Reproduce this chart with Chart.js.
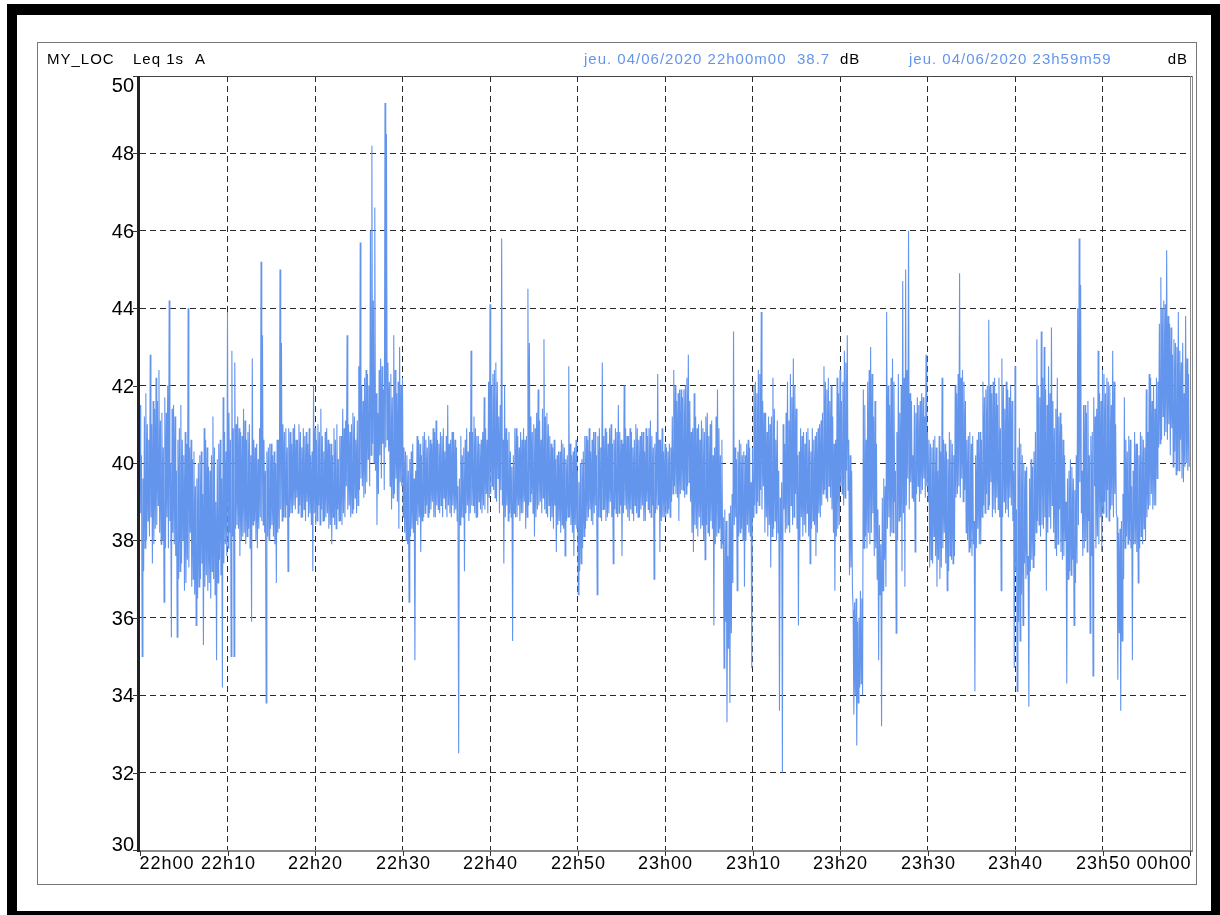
<!DOCTYPE html>
<html>
<head>
<meta charset="utf-8">
<title>MY_LOC Leq 1s A</title>
<script src="https://cdn.jsdelivr.net/npm/chart.js@4.4.1/dist/chart.umd.min.js"></script>
<style>
    html, body { margin: 0; padding: 0; background: #fff; }
    #wrap { width: 1220px; height: 915px; position: relative; }
</style>
</head>
<body>
<div id="wrap"><canvas id="leqChart"></canvas></div>
<script>
// readings per 10 s slot, 22h00m00 -> 23h59m50
const stepSeconds = 10
const timeLabels = ["22h00", "22h10", "22h20", "22h30", "22h40", "22h50", "23h00",
    "23h10", "23h20", "23h30", "23h40", "23h50", "00h00"]
const yTicks = [30, 32, 34, 36, 38, 40, 42, 44, 46, 48, 50]
const headerLeft = ["MY_LOC", "Leq 1s", "A"]
const startStamp = "jeu. 04/06/2020 22h00m00"
const endStamp = "jeu. 04/06/2020 23h59m59"
const overallLeq = "38.7"

// main reading of each slot (peaks and dips)
const levels = [
    38.7, 35.0, 39.6, 37.8, 41.8, 38.5, 40.6, 42.8, 37.4, 41.6, 38.3, 42.2,
    38.9, 42.4, 37.9, 41.3, 36.4, 41.7, 38.6, 42.0, 44.2, 35.5, 41.4, 37.9,
    41.2, 35.5, 40.6, 37.2, 41.5, 38.0, 36.7, 40.8, 37.5, 44.0, 38.2, 40.6,
    37.0, 40.3, 35.8, 39.6, 36.8, 40.2, 37.4, 35.3, 40.9, 37.1, 40.4, 36.9,
    39.8, 37.2, 41.2, 36.6, 34.9, 40.1, 37.5, 40.6, 34.2, 41.7, 37.9, 40.3,
    43.9, 38.2, 35.0, 42.9, 35.0, 42.6, 38.4, 41.2, 37.6, 40.8, 38.1, 41.4,
    37.9, 40.6, 38.3, 41.0, 35.9, 42.7, 38.5, 40.4, 37.8, 40.1, 38.6, 45.2,
    43.3, 38.2, 33.8, 40.3, 38.0, 40.5, 38.4, 40.2, 37.9, 36.9, 40.6, 38.3,
    45.0, 43.1, 38.6, 40.8, 38.9, 37.2, 40.9, 38.7, 40.5, 38.9, 41.0, 39.1,
    40.6, 41.0, 38.6, 40.4, 38.8, 40.7, 39.0, 40.5, 38.7, 40.2, 37.2, 42.0,
    38.4, 40.6, 38.9, 40.8, 41.4, 38.5, 40.3, 38.6, 40.9, 38.3, 40.5, 37.9,
    40.2, 38.4, 40.6, 38.8, 40.1, 38.5, 40.7, 41.4, 38.6, 39.4, 43.3, 38.9,
    40.8, 38.7, 41.3, 39.1, 40.6, 38.9, 42.5, 45.7, 39.4, 41.6, 39.2, 42.4,
    40.1, 42.0, 46.0, 48.2, 44.2, 46.6, 38.4, 41.3, 40.2, 42.7, 40.5, 41.9,
    49.3, 48.5, 40.3, 42.1, 38.8, 41.7, 43.3, 39.6, 41.8, 38.3, 43.0, 39.4,
    42.2, 38.2, 40.3, 37.9, 36.4, 40.1, 38.3, 40.5, 34.9, 39.8, 38.4, 40.6,
    37.7, 40.2, 38.6, 40.8, 38.9, 40.4, 38.7, 40.6, 39.0, 40.9, 38.6, 41.1,
    38.8, 40.5, 38.9, 40.7, 39.1, 40.3, 38.6, 41.5, 38.7, 40.6, 38.9, 40.8,
    38.8, 40.4, 32.5, 39.6, 38.6, 40.2, 37.2, 40.6, 38.9, 40.3, 38.7, 42.9,
    38.9, 41.2, 38.6, 40.7, 39.0, 40.5, 38.7, 40.8, 41.7, 39.2, 40.6, 42.1,
    44.1, 39.4, 42.3, 39.1, 42.6, 39.6, 41.2, 39.3, 45.8, 37.4, 42.0, 38.9,
    40.6, 38.7, 40.3, 35.4, 40.2, 38.6, 40.9, 38.9, 40.4, 38.7, 40.6, 39.0,
    38.3, 40.7, 44.5, 43.1, 39.2, 40.8, 38.1, 40.9, 38.8, 41.9, 39.0, 40.6,
    39.1, 43.2, 38.7, 41.3, 38.9, 40.7, 38.6, 40.4, 38.9, 37.7, 40.2, 38.5,
    40.3, 38.4, 40.5, 37.6, 40.1, 38.6, 42.5, 38.4, 40.2, 37.6, 40.4, 38.3,
    36.6, 39.5, 37.4, 40.1, 38.1, 40.7, 38.5, 40.6, 38.8, 40.3, 38.4, 40.8,
    38.9, 36.6, 40.7, 38.6, 40.4, 42.6, 38.8, 40.9, 38.6, 40.5, 39.0, 41.0,
    37.4, 40.6, 38.7, 40.8, 41.5, 38.9, 37.6, 40.5, 42.0, 38.8, 40.7, 38.5,
    40.9, 38.7, 40.4, 38.9, 41.0, 38.6, 40.6, 38.8, 40.8, 38.5, 40.3, 39.0,
    40.7, 38.7, 41.1, 38.9, 37.0, 40.5, 38.8, 42.3, 37.7, 40.6, 38.6, 40.3,
    38.6, 40.4, 38.8, 40.5, 39.0, 41.2, 42.4, 39.2, 41.6, 38.5, 41.9, 39.3,
    41.7, 39.1, 42.0, 39.4, 42.8, 39.0, 40.8, 37.7, 41.8, 38.3, 40.9, 38.6,
    40.6, 38.4, 40.9, 37.5, 41.2, 38.2, 40.7, 38.5, 41.1, 35.8, 40.4, 38.1,
    41.9, 38.3, 40.2, 37.9, 34.7, 38.8, 33.3, 37.6, 33.8, 38.9, 36.9, 43.4,
    38.6, 36.7, 40.3, 38.2, 40.5, 38.0, 36.8, 40.2, 38.4, 40.6, 38.1, 34.7,
    40.4, 38.9, 42.1, 39.0, 42.4, 39.3, 43.9, 39.4, 41.3, 38.6, 40.8, 38.4,
    37.3, 41.2, 42.2, 38.5, 40.6, 38.2, 33.6, 39.1, 32.0, 38.8, 40.5, 38.3,
    38.4, 41.1, 38.9, 41.7, 42.7, 39.2, 41.4, 35.8, 40.3, 38.6, 40.7, 38.4,
    40.5, 38.7, 40.9, 37.4, 40.3, 38.5, 40.6, 37.6, 40.8, 38.7, 41.0, 38.9,
    41.3, 42.5, 39.1, 41.9, 39.4, 41.6, 38.8, 41.2, 36.7, 40.6, 38.3, 41.8,
    39.4, 41.6, 38.9, 42.9, 39.8, 43.3, 37.1, 40.2, 36.8, 33.5, 36.4, 32.7,
    35.9, 36.0, 34.3, 36.5, 41.9, 38.1, 40.6, 38.2, 42.4, 43.0, 38.7, 41.2,
    37.8, 40.5, 34.9, 38.4, 33.2, 39.1, 37.5, 39.4, 43.9, 38.6, 41.5, 38.2,
    42.7, 39.0, 35.6, 40.8, 38.5, 41.3, 37.2, 44.7, 36.8, 45.0, 39.6, 46.0,
    39.5, 41.6, 40.2, 37.7, 41.3, 39.4, 41.5, 39.2, 41.8, 39.6, 41.2, 42.8,
    39.0, 40.6, 37.5, 40.4, 38.1, 40.7, 36.8, 39.8, 37.0, 40.3, 42.2, 38.2,
    40.5, 36.7, 40.1, 37.6, 40.6, 37.4, 40.2, 39.1, 41.8, 39.4, 44.9, 39.6,
    42.4, 39.3, 41.6, 38.0, 40.7, 37.8, 40.5, 37.9, 34.1, 40.2, 38.3, 40.8,
    37.9, 40.6, 38.9, 41.7, 39.2, 42.0, 43.7, 39.5, 41.8, 38.8, 42.2, 39.1,
    41.5, 38.6, 36.7, 42.7, 39.0, 41.4, 38.8, 41.9, 39.1, 42.0, 38.5, 34.7,
    42.5, 34.1, 35.9, 40.9, 36.6, 40.2, 37.4, 39.8, 37.1, 33.7, 39.6, 37.5,
    39.9, 37.6, 40.8, 43.2, 38.4, 41.7, 43.4, 38.3, 43.0, 36.7, 41.5, 38.6,
    41.8, 43.5, 38.2, 40.9, 37.6, 42.2, 38.8, 41.3, 37.5, 40.6, 38.0, 34.3,
    39.6, 37.2, 40.1, 37.5, 35.8, 39.3, 37.4, 44.0, 45.8, 44.6, 39.8, 41.5,
    38.0, 41.3, 38.5, 35.6, 40.7, 34.5, 39.4, 41.2, 38.1, 42.9, 38.6, 41.6,
    42.4, 39.0, 41.8, 39.3, 42.1, 38.8, 41.5, 42.9, 39.2, 41.0, 34.4, 38.2,
    33.6, 38.5, 37.0, 41.7, 38.1, 40.3, 38.0, 40.6, 34.9, 39.8, 37.9, 40.5,
    36.9, 40.2, 38.1, 40.7, 38.3, 40.4, 38.6, 40.8, 42.3, 39.2, 41.6, 38.9,
    41.4, 39.6, 42.1, 40.5, 44.8, 41.2, 44.2, 40.8, 45.5, 41.0, 43.6, 40.9,
    42.8, 40.3, 43.1, 39.8, 43.9, 40.6, 42.6, 39.5, 41.8, 43.8, 39.8, 42.3
]

// the other extreme reached inside the same 10 s slot
const opposite = [
    41.5, 40.2, 37.2, 41.2, 38.0, 41.0, 38.1, 38.6, 41.0, 37.9, 41.4, 38.4,
    41.6, 38.2, 41.1, 38.0, 40.4, 37.8, 41.3, 37.8, 38.5, 40.0, 38.2, 41.5,
    37.6, 39.8, 37.0, 40.9, 37.4, 40.6, 40.2, 36.9, 40.5, 37.3, 40.4, 36.8,
    40.1, 36.6, 39.4, 36.5, 40.0, 37.0, 40.3, 39.2, 36.8, 40.6, 36.7, 39.9,
    36.5, 40.2, 37.0, 40.4, 39.0, 36.9, 40.5, 37.1, 39.6, 37.4, 40.8, 37.6,
    37.8, 41.3, 40.6, 38.1, 40.9, 38.3, 41.0, 38.3, 40.9, 38.0, 40.7, 38.2,
    41.1, 38.1, 40.8, 37.8, 40.2, 38.4, 40.6, 38.0, 40.5, 38.3, 40.9, 38.5,
    38.4, 40.6, 39.8, 38.1, 40.4, 38.3, 40.5, 38.1, 40.3, 40.0, 38.2, 40.6,
    38.8, 38.5, 41.0, 38.6, 40.9, 40.4, 38.6, 40.8, 38.7, 40.9, 38.8, 40.6,
    38.7, 38.9, 40.8, 38.6, 40.9, 38.5, 40.8, 38.6, 40.9, 38.4, 40.3, 38.7,
    40.9, 38.5, 41.0, 38.4, 38.8, 40.7, 38.5, 40.8, 38.7, 40.6, 38.4, 40.5,
    38.6, 40.9, 38.3, 41.0, 38.5, 40.7, 38.4, 38.7, 40.9, 41.1, 38.8, 41.0,
    38.6, 41.0, 38.8, 41.2, 38.7, 41.1, 39.3, 39.6, 42.0, 39.1, 42.2, 39.5,
    42.3, 39.4, 40.2, 40.5, 40.0, 39.8, 41.8, 39.2, 42.4, 39.6, 42.5, 39.3,
    40.4, 40.6, 42.6, 39.4, 42.3, 39.1, 39.2, 42.4, 39.0, 42.1, 39.5, 42.0,
    38.6, 40.4, 38.0, 40.2, 39.8, 38.1, 40.3, 38.2, 39.6, 38.5, 40.7, 38.6,
    40.5, 38.5, 40.7, 38.7, 40.6, 38.6, 40.7, 38.8, 40.5, 38.6, 40.8, 38.9,
    40.6, 38.7, 40.8, 38.6, 40.9, 38.8, 40.7, 38.9, 40.5, 38.6, 40.8, 38.7,
    40.6, 38.5, 39.4, 38.4, 40.7, 38.6, 40.4, 38.7, 40.9, 38.5, 40.8, 38.9,
    40.8, 38.7, 40.9, 38.6, 40.7, 38.8, 40.6, 38.9, 38.8, 40.9, 38.7, 39.1,
    39.2, 42.0, 39.3, 42.4, 39.0, 42.1, 38.7, 41.5, 38.9, 40.6, 38.6, 40.9,
    38.5, 40.8, 38.6, 39.9, 38.7, 40.9, 38.6, 40.7, 38.5, 40.8, 38.7, 40.9,
    40.6, 38.6, 38.9, 39.0, 41.2, 38.7, 41.0, 38.6, 41.3, 38.9, 41.1, 38.7,
    41.4, 38.8, 41.2, 38.6, 41.0, 38.5, 40.5, 38.3, 40.6, 40.1, 38.4, 40.3,
    38.2, 40.6, 38.3, 40.4, 38.5, 40.2, 38.6, 40.5, 38.2, 40.3, 38.4, 40.6,
    39.8, 37.2, 40.0, 37.8, 40.3, 38.3, 40.7, 38.6, 40.9, 38.5, 40.6, 38.7,
    40.8, 40.2, 38.6, 40.9, 38.5, 38.8, 40.7, 38.5, 40.8, 38.7, 40.9, 38.6,
    40.5, 38.8, 40.9, 38.6, 38.7, 40.8, 40.6, 38.7, 38.9, 40.9, 38.6, 40.7,
    38.8, 40.8, 38.5, 40.6, 38.7, 40.9, 38.6, 40.7, 38.9, 40.8, 38.5, 40.9,
    38.8, 40.9, 38.6, 40.7, 40.4, 38.7, 40.8, 38.9, 40.6, 38.5, 40.9, 38.6,
    40.5, 38.7, 40.3, 38.6, 40.4, 39.2, 39.4, 42.0, 39.1, 41.8, 39.2, 41.9,
    39.3, 41.9, 39.2, 42.2, 39.5, 41.6, 38.2, 40.9, 38.4, 41.2, 38.1, 41.0,
    38.3, 41.1, 38.0, 40.8, 38.4, 41.3, 38.1, 41.0, 38.3, 40.2, 37.9, 41.2,
    38.2, 40.9, 37.8, 40.6, 38.6, 35.9, 38.5, 35.2, 38.7, 35.6, 39.2, 38.4,
    40.4, 40.1, 38.1, 40.6, 38.3, 40.2, 40.3, 38.0, 40.5, 38.2, 40.4, 39.5,
    38.6, 42.0, 38.7, 41.8, 38.9, 42.3, 38.8, 41.6, 38.2, 41.3, 38.1, 41.2,
    41.0, 38.1, 38.3, 41.4, 38.0, 41.1, 39.8, 38.0, 39.5, 41.0, 38.2, 41.3,
    42.1, 38.2, 42.3, 38.4, 38.6, 42.0, 38.3, 40.2, 38.0, 40.9, 38.1, 40.8,
    38.2, 40.8, 38.1, 40.6, 38.3, 40.9, 38.4, 40.7, 38.2, 40.9, 38.6, 41.1,
    39.2, 39.3, 42.1, 39.0, 42.2, 39.1, 42.0, 38.2, 40.5, 38.1, 42.2, 38.4,
    42.4, 39.2, 42.1, 39.1, 42.6, 39.3, 40.6, 37.3, 39.8, 36.2, 34.0, 36.5,
    33.8, 34.2, 36.7, 34.0, 37.8, 41.5, 37.8, 42.1, 37.9, 38.2, 42.3, 37.6,
    41.6, 37.0, 38.8, 36.6, 37.9, 36.7, 39.6, 36.8, 38.3, 42.0, 38.1, 42.2,
    38.2, 42.1, 39.8, 38.0, 42.3, 38.6, 42.0, 38.7, 42.2, 38.9, 42.4, 38.8,
    41.8, 39.1, 39.0, 41.5, 39.2, 41.7, 39.0, 41.6, 39.3, 41.7, 39.1, 39.4,
    40.8, 37.3, 40.5, 37.4, 40.6, 37.6, 40.4, 37.5, 40.7, 37.3, 37.8, 40.6,
    37.4, 40.3, 37.2, 40.8, 37.5, 40.5, 37.6, 42.0, 39.2, 42.3, 39.1, 42.2,
    39.0, 42.1, 38.2, 40.6, 37.7, 40.8, 37.6, 40.7, 38.5, 37.8, 40.6, 37.9,
    40.8, 38.6, 42.1, 38.7, 41.9, 38.8, 38.9, 42.0, 38.6, 42.1, 38.7, 41.8,
    38.8, 42.2, 40.9, 38.6, 42.0, 38.7, 42.1, 38.6, 41.7, 38.9, 41.6, 39.8,
    37.2, 38.8, 40.4, 35.4, 40.5, 35.8, 40.0, 37.0, 39.9, 37.6, 37.2, 40.1,
    37.3, 40.3, 38.2, 38.5, 42.0, 38.1, 38.4, 42.2, 38.6, 41.9, 38.2, 42.5,
    38.3, 38.9, 41.6, 37.8, 41.4, 37.9, 41.2, 37.7, 41.0, 37.6, 40.2, 39.0,
    37.0, 39.8, 37.1, 39.9, 39.6, 36.9, 40.2, 38.4, 39.5, 38.7, 37.6, 37.8,
    41.5, 37.7, 41.6, 40.2, 37.6, 40.8, 41.7, 37.8, 41.4, 37.9, 41.8, 37.7,
    38.7, 42.3, 38.6, 42.2, 38.5, 42.0, 38.9, 38.6, 42.1, 38.7, 38.6, 35.6,
    38.3, 35.4, 39.2, 37.8, 40.6, 37.9, 40.7, 37.8, 39.4, 37.9, 40.8, 37.7,
    40.5, 37.8, 40.8, 37.9, 40.6, 38.0, 41.9, 38.8, 38.9, 42.2, 38.8, 42.0,
    38.9, 42.2, 40.4, 43.6, 40.6, 44.0, 40.7, 44.1, 40.6, 43.8, 40.2, 43.5,
    39.9, 43.2, 39.7, 43.0, 39.8, 42.9, 39.6, 43.1, 39.9, 40.0, 42.7, 39.9
]

const lineBlue = "#6495ED"
const totalSeconds = (timeLabels.length - 1) * 600

// each slot drawn as its high then its low, 5 s apart
const points = []
levels.forEach((v, i) => {
    const o = opposite[i]
    points.push({ x: i * stepSeconds, y: Math.max(v, o) })
    points.push({ x: i * stepSeconds + stepSeconds / 2, y: Math.min(v, o) })
})

// frame, header, axis lines and tick labels, placed with the chart's own scales
const framePlugin = {
    id: "frame",
    beforeDraw(chart) {
        const ctx = chart.ctx
        ctx.save()
        ctx.fillStyle = "#000"
        ctx.fillRect(7, 4, 1213, 911)
        ctx.fillStyle = "#fff"
        ctx.fillRect(17, 15, 1194, 896)
        ctx.strokeStyle = "#777"
        ctx.lineWidth = 1
        ctx.strokeRect(37.5, 42.5, 1159, 842)

        ctx.font = "15px 'Liberation Sans', Arial, sans-serif"
        ctx.letterSpacing = "1px"
        ctx.textBaseline = "alphabetic"
        ctx.textAlign = "left"
        ctx.fillStyle = "#000"
        ctx.fillText(headerLeft[0], 47, 64)
        ctx.fillText(headerLeft[1], 133, 64)
        ctx.fillText(headerLeft[2], 195, 64)
        ctx.fillStyle = lineBlue
        ctx.fillText(startStamp, 584, 64)
        ctx.fillText(overallLeq, 797, 64)
        ctx.fillText(endStamp, 909, 64)
        ctx.fillStyle = "#000"
        ctx.fillText("dB", 840, 64)
        ctx.textAlign = "right"
        ctx.fillText("dB", 1188, 64)
        ctx.restore()
    },
    afterDraw(chart) {
        const ctx = chart.ctx
        const area = chart.chartArea
        const xs = chart.scales.x
        const ys = chart.scales.y
        ctx.save()

        // plot box
        ctx.strokeStyle = "#444"
        ctx.lineWidth = 1
        ctx.beginPath()
        ctx.moveTo(area.left, area.top + 0.5)
        ctx.lineTo(area.right + 3, area.top + 0.5)
        ctx.stroke()
        ctx.strokeStyle = "#888"
        ctx.beginPath()
        ctx.moveTo(area.right + 0.5, area.top)
        ctx.lineTo(area.right + 0.5, area.bottom)
        ctx.moveTo(area.right + 2.5, area.top)
        ctx.lineTo(area.right + 2.5, area.bottom)
        ctx.stroke()
        ctx.strokeStyle = "#666"
        ctx.lineWidth = 1.5
        ctx.beginPath()
        ctx.moveTo(area.left, area.bottom + 1)
        ctx.lineTo(area.right + 3, area.bottom + 1)
        ctx.stroke()
        ctx.strokeStyle = "#222"
        ctx.lineWidth = 3
        ctx.beginPath()
        ctx.moveTo(area.left - 1.5, area.top)
        ctx.lineTo(area.left - 1.5, area.bottom + 2)
        ctx.stroke()

        // y ticks + labels
        ctx.fillStyle = "#000"
        ctx.strokeStyle = "#333"
        ctx.lineWidth = 1
        ctx.font = "20px 'Liberation Sans', Arial, sans-serif"
        ctx.textAlign = "right"
        yTicks.forEach(v => {
            const y = Math.round(ys.getPixelForValue(v)) + 0.5
            ctx.beginPath()
            ctx.moveTo(area.left - 7, y)
            ctx.lineTo(area.left - 2, y)
            ctx.stroke()
            if (v === yTicks[yTicks.length - 1]) {
                ctx.textBaseline = "top"
                ctx.fillText(String(v), area.left - 6, y)
            } else if (v === yTicks[0]) {
                ctx.textBaseline = "alphabetic"
                ctx.fillText(String(v), area.left - 6, y)
            } else {
                ctx.textBaseline = "middle"
                ctx.fillText(String(v), area.left - 6, y + 1)
            }
        })

        // x ticks + labels
        ctx.font = "18px 'Liberation Sans', Arial, sans-serif"
        ctx.letterSpacing = "1px"
        ctx.textBaseline = "top"
        timeLabels.forEach((lab, i) => {
            const x = Math.round(xs.getPixelForValue(i * 600)) + 0.5
            ctx.beginPath()
            ctx.moveTo(x, area.bottom + 1)
            ctx.lineTo(x, area.bottom + 6)
            ctx.stroke()
            if (i === 0) {
                ctx.textAlign = "left"
                ctx.fillText(lab, x - 1, area.bottom + 5)
            } else if (i === timeLabels.length - 1) {
                ctx.textAlign = "right"
                ctx.fillText(lab, x + 1, area.bottom + 5)
            } else {
                ctx.textAlign = "center"
                ctx.fillText(lab, x, area.bottom + 5)
            }
        })
        ctx.restore()
    }
}

const gridColor = (edgeA, edgeB) => c => {
    const v = c.tick ? c.tick.value : null
    return (v === edgeA || v === edgeB) ? "rgba(0,0,0,0)" : "#2a2a2a"
}

const ctx = document.getElementById("leqChart").getContext("2d")
const leqChart = new Chart(ctx, {
    type: "line",
    data: {
        datasets: [{
            label: "Leq 1s A",
            data: points,
            borderColor: lineBlue,
            borderWidth: 1.1,
            pointRadius: 0,
            tension: 0,
            fill: false
        }]
    },
    options: {
        responsive: true,
        maintainAspectRatio: false,
        animation: false,
        events: [],
        layout: { padding: { left: 140, top: 76, right: 30, bottom: 65 } },
        plugins: { legend: { display: false }, tooltip: { enabled: false } },
        scales: {
            x: {
                type: "linear",
                min: 0,
                max: totalSeconds,
                ticks: { display: false, stepSize: 600 },
                grid: { color: gridColor(0, totalSeconds), lineWidth: 1, drawTicks: false },
                border: { display: false, dash: [6, 4] }
            },
            y: {
                min: yTicks[0],
                max: yTicks[yTicks.length - 1],
                ticks: { display: false, stepSize: 2 },
                grid: { color: gridColor(yTicks[0], yTicks[yTicks.length - 1]), lineWidth: 1, drawTicks: false },
                border: { display: false, dash: [6, 4] }
            }
        }
    },
    plugins: [framePlugin]
})
</script>
</body>
</html>
